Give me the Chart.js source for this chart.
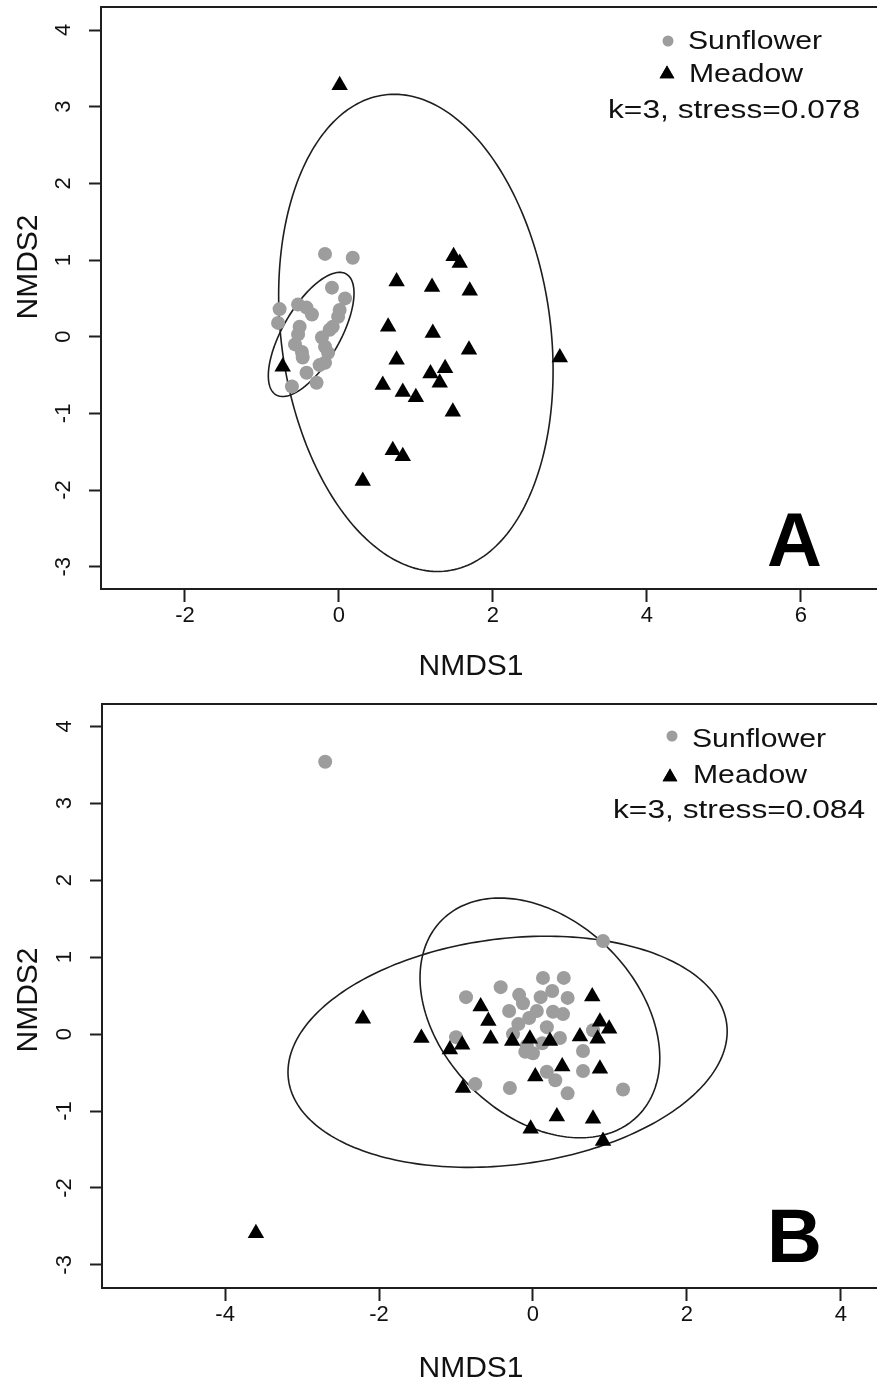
<!DOCTYPE html>
<html>
<head>
<meta charset="utf-8">
<title>NMDS ordination</title>
<script src="https://cdn.jsdelivr.net/npm/chart.js@4.4.1/dist/chart.umd.min.js"></script>
<style>
  html, body { margin: 0; padding: 0; background: #fff; }
  canvas { display: block; }
</style>
</head>
<body>
<canvas id="panelA" width="877" height="690"></canvas>
<canvas id="panelB" width="877" height="691"></canvas>
<script>
// ---- data: panel A (k=3, stress=0.078) ----
const sunflowerA = [
  [-0.18, 1.08], [0.18, 1.03], [-0.09, 0.64], [0.08, 0.50], [0.01, 0.35],
  [-0.01, 0.26], [-0.08, 0.13], [-0.12, 0.09], [-0.22, -0.01], [-0.18, -0.13],
  [-0.14, -0.21], [-0.18, -0.34], [-0.25, -0.37], [-0.53, 0.42], [-0.42, 0.38],
  [-0.35, 0.29], [-0.51, 0.13], [-0.53, 0.03], [-0.57, -0.10], [-0.48, -0.20],
  [-0.47, -0.27], [-0.42, -0.47], [-0.29, -0.60], [-0.77, 0.36], [-0.79, 0.18],
  [-0.61, -0.65],
];
const meadowA = [
  [0.01, 3.28], [1.49, 1.05], [1.57, 0.96], [0.75, 0.72], [1.21, 0.65],
  [1.70, 0.60], [0.64, 0.13], [1.22, 0.05], [1.69, -0.17], [0.75, -0.30],
  [2.87, -0.27], [1.19, -0.48], [1.38, -0.41], [1.31, -0.60], [0.57, -0.63],
  [0.83, -0.72], [1.00, -0.79], [1.48, -0.98], [0.70, -1.48], [0.83, -1.56],
  [0.31, -1.88], [-0.73, -0.39],
];
// ellipses: [centre x, centre y, semi-major, semi-minor, angle in degrees]
const ellipsesA = [
  [-0.36, 0.03, 0.91, 0.37, 60],
  [1.0, 0.05, 3.13, 1.75, 97.5],
];
const xRangeA = [-3.09, 6.99];
const yRangeA = [-3.29, 4.30];
const xTicksA = [-2, 0, 2, 4, 6];
const yTicksA = [-3, -2, -1, 0, 1, 2, 3, 4];
const stressA = "k=3, stress=0.078";

// ---- data: panel B (k=3, stress=0.084) ----
const sunflowerB = [
  [-2.70, 3.54], [0.91, 1.21], [0.13, 0.73], [0.40, 0.73], [-0.42, 0.61],
  [-0.87, 0.48], [-0.18, 0.51], [-0.13, 0.40], [0.10, 0.48], [0.25, 0.56],
  [0.45, 0.47], [-0.31, 0.30], [-0.05, 0.21], [0.26, 0.29], [0.39, 0.26],
  [-0.19, 0.13], [0.18, 0.09], [0.05, 0.30], [-0.26, 0.00], [-1.00, -0.04],
  [0.35, -0.05], [0.78, 0.05], [-0.10, -0.23], [0.00, -0.25], [0.12, -0.12],
  [-0.08, -0.15], [0.65, -0.22], [0.18, -0.49], [0.29, -0.60], [0.65, -0.48],
  [-0.30, -0.70], [0.45, -0.77], [1.17, -0.72], [-0.75, -0.65],
];
const meadowB = [
  [-3.60, -2.59], [-2.21, 0.20], [-1.45, -0.05], [-1.08, -0.20], [-0.92, -0.14],
  [-0.68, 0.36], [-0.58, 0.17], [-0.55, -0.06], [-0.27, -0.09], [-0.04, -0.06],
  [0.22, -0.09], [0.61, -0.03], [0.84, -0.06], [0.77, 0.49], [0.87, 0.16],
  [0.99, 0.07], [0.38, -0.42], [0.03, -0.55], [0.87, -0.45], [-0.91, -0.70],
  [0.31, -1.07], [0.78, -1.10], [-0.03, -1.23], [0.91, -1.39],
];
const ellipsesB = [
  [0.09, 0.21, 1.80, 1.27, 135],
  [-0.33, -0.23, 2.87, 1.47, 7.2],
];
const xRangeB = [-5.6, 4.47];
const yRangeB = [-3.30, 4.29];
const xTicksB = [-4, -2, 0, 2, 4];
const yTicksB = [-3, -2, -1, 0, 1, 2, 3, 4];
const stressB = "k=3, stress=0.084";

const groupNames = ["Sunflower", "Meadow"];

// ---- look ----
const FONT = '"Liberation Sans", Arial, Helvetica, sans-serif';
const GREY = "#9d9d9d";
const INK = "#1e1e1e";

const layoutA = {
  letter: "A", top: 7, yAxisWidth: 101, xAxisHeight: 101,
  dot: [668, 41], sun: [688, 49], tri: [667, 74], mea: [689, 82], stress: [608, 118],
  letterPos: [822, 566], xTitle: [471, 675], yTitle: [37, 267],
};
const layoutB = {
  letter: "B", top: 14, yAxisWidth: 102, xAxisHeight: 93,
  dot: [672, 46], sun: [692, 57], tri: [670, 87], mea: [693, 93], stress: [613, 128],
  letterPos: [822, 572], xTitle: [471, 687], yTitle: [37, 310],
};

const stretched = (ctx, text, x, y, size, sx) => {
  ctx.save();
  ctx.translate(x, y);
  ctx.scale(sx, 1);
  ctx.font = `${size}px ${FONT}`;
  ctx.textAlign = "left";
  ctx.textBaseline = "alphabetic";
  ctx.fillText(text, 0, 0);
  ctx.restore();
};

const decorations = (ellipses, lay, stressText) => ({
  id: "decorations",
  beforeDatasetsDraw(chart) {
    const { ctx, chartArea: area, scales: { x, y } } = chart;
    ctx.save();
    ctx.beginPath();
    ctx.rect(area.left, area.top, area.right - area.left, area.bottom - area.top);
    ctx.clip();
    ctx.strokeStyle = INK;
    ctx.lineWidth = 1.6;
    ellipses.forEach(([cx, cy, a, b, deg]) => {
      const phi = (deg * Math.PI) / 180;
      ctx.beginPath();
      for (let i = 0; i <= 240; i++) {
        const t = (i / 240) * 2 * Math.PI;
        const dx = a * Math.cos(t);
        const dy = b * Math.sin(t);
        const px = x.getPixelForValue(cx + dx * Math.cos(phi) - dy * Math.sin(phi));
        const py = y.getPixelForValue(cy + dx * Math.sin(phi) + dy * Math.cos(phi));
        if (i === 0) ctx.moveTo(px, py);
        else ctx.lineTo(px, py);
      }
      ctx.closePath();
      ctx.stroke();
    });
    ctx.restore();
  },
  afterDraw(chart) {
    const { ctx, chartArea: area } = chart;
    ctx.save();
    // top edge of the box (right edge is cropped off in the figure)
    ctx.strokeStyle = INK;
    ctx.lineWidth = 2;
    ctx.beginPath();
    ctx.moveTo(area.left - 1, area.top);
    ctx.lineTo(chart.width, area.top);
    ctx.stroke();

    // legend
    ctx.fillStyle = GREY;
    ctx.beginPath();
    ctx.arc(lay.dot[0], lay.dot[1], 5.5, 0, 2 * Math.PI);
    ctx.fill();
    ctx.fillStyle = "#000";
    Chart.helpers.drawPoint(ctx, { pointStyle: "triangle", radius: 8.5, borderWidth: 0 }, lay.tri[0], lay.tri[1]);
    ctx.fill();
    ctx.fillStyle = "#111";
    stretched(ctx, groupNames[0], lay.sun[0], lay.sun[1], 26, 1.16);
    stretched(ctx, groupNames[1], lay.mea[0], lay.mea[1], 26, 1.16);
    stretched(ctx, stressText, lay.stress[0], lay.stress[1], 26, 1.22);

    // panel letter
    ctx.font = `bold 76px ${FONT}`;
    ctx.textAlign = "right";
    ctx.textBaseline = "alphabetic";
    ctx.fillStyle = "#000";
    ctx.fillText(lay.letter, lay.letterPos[0], lay.letterPos[1]);

    // axis titles
    ctx.font = `30px ${FONT}`;
    ctx.fillStyle = "#111";
    ctx.textAlign = "center";
    ctx.fillText("NMDS1", lay.xTitle[0], lay.xTitle[1]);
    ctx.translate(lay.yTitle[0], lay.yTitle[1]);
    ctx.rotate(-Math.PI / 2);
    ctx.fillText("NMDS2", 0, 0);
    ctx.restore();
  },
});

const axis = (range, ticks, fitSize, isY) => ({
  type: "linear",
  position: isY ? "left" : "bottom",
  min: range[0],
  max: range[1],
  afterBuildTicks: (scale) => {
    scale.ticks = ticks.map((value) => ({ value }));
  },
  afterFit: (scale) => {
    // keep the plot box where the figure has it
    scale.paddingTop = 0;
    scale.paddingBottom = 0;
    scale.paddingLeft = 0;
    scale.paddingRight = 0;
    if (isY) scale.width = fitSize;
    else scale.height = fitSize;
  },
  grid: {
    drawOnChartArea: false,
    drawTicks: true,
    tickLength: isY ? 12 : 13,
    tickWidth: 2,
    tickColor: INK,
  },
  border: { display: true, color: INK, width: 2 },
  ticks: {
    autoSkip: false,
    color: "#111",
    font: { family: FONT, size: 22 },
    padding: isY ? 15 : 14,
    minRotation: isY ? 90 : 0,
    maxRotation: isY ? 90 : 0,
    crossAlign: "center",
  },
});

const toPoints = (pairs) => pairs.map(([x, y]) => ({ x, y }));

const createPanel = (id, sunflower, meadow, ellipses, xRange, yRange, xTicks, yTicks, lay, stressText) => {
  const config = {
    type: "scatter",
    data: {
      datasets: [
        {
          label: groupNames[0],
          data: toPoints(sunflower),
          pointStyle: "circle",
          pointRadius: 7,
          pointBorderWidth: 0,
          backgroundColor: GREY,
          order: 2,
        },
        {
          label: groupNames[1],
          data: toPoints(meadow),
          pointStyle: "triangle",
          pointRadius: 9.5,
          pointBorderWidth: 0,
          backgroundColor: "#000",
          order: 1,
        },
      ],
    },
    options: {
      responsive: false,
      animation: false,
      devicePixelRatio: 1,
      events: [],
      layout: { autoPadding: false, padding: { top: lay.top, left: 0, right: 0, bottom: 0 } },
      scales: {
        x: axis(xRange, xTicks, lay.xAxisHeight, false),
        y: axis(yRange, yTicks, lay.yAxisWidth, true),
      },
      plugins: {
        legend: { display: false },
        tooltip: { enabled: false },
      },
    },
    plugins: [decorations(ellipses, lay, stressText)],
  };

  new Chart(document.getElementById(id), config);
};

createPanel("panelA", sunflowerA, meadowA, ellipsesA, xRangeA, yRangeA, xTicksA, yTicksA, layoutA, stressA);
createPanel("panelB", sunflowerB, meadowB, ellipsesB, xRangeB, yRangeB, xTicksB, yTicksB, layoutB, stressB);
</script>
</body>
</html>
